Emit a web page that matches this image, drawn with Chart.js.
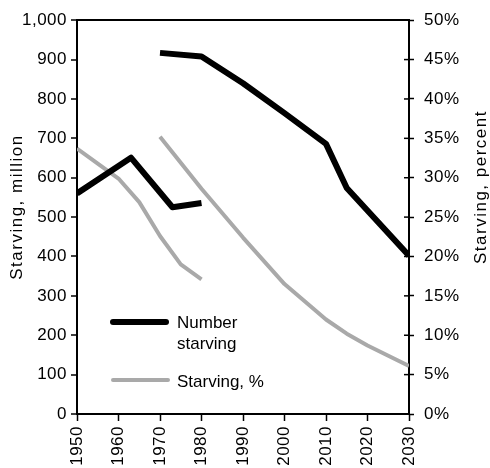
<!DOCTYPE html>
<html><head><meta charset="utf-8">
<script src="https://cdn.jsdelivr.net/npm/chart.js@4"></script>
<style>html,body{margin:0;padding:0;background:#fff}canvas{display:block}</style>
</head><body>
<canvas id="c" width="490" height="468"></canvas>
<script>
const xTicks = [1950,1960,1970,1980,1990,2000,2010,2020,2030];
const leftTicks = [0,100,200,300,400,500,600,700,800,900,1000];
const rightTicks = [0,5,10,15,20,25,30,35,40,45,50];
const numYearsA = [1950,1963,1973,1980];
const numValuesA = [560,651,525,536];
const numYearsB = [1970,1980,1990,2000,2010,2015,2030];
const numValuesB = [917,908,840,764,686,574,402];
const pctYearsA = [1950,1955,1960,1965,1970,1975,1980];
const pctValuesA = [33.7,31.8,29.9,26.9,22.6,19.0,17.1];
const pctYearsB = [1970,1980,1990,2000,2010,2015,2020,2030];
const pctValuesB = [35.2,28.6,22.4,16.5,12.0,10.2,8.7,6.1];
const seriesLabels = ['Number starving','Starving, %'];
const legendLines = [['Number','starving'],['Starving, %']];
const leftTitle = 'Starving, million';
const rightTitle = 'Starving, percent';

const FONT = '"Liberation Sans", Arial, Helvetica, sans-serif';
const BLACK = '#000';
const GRAY = '#a9a9a9';

function pts(xs, ys){ return xs.map((x,i)=>({x:x, y:ys[i]})); }

const spacing = {
  id:'spacing',
  beforeLayout(chart){ chart.ctx.letterSpacing = '0.5px'; },
  beforeDraw(chart){ chart.ctx.letterSpacing = '0.5px'; }
};

const overlay = {
  id:'overlay',
  afterDraw(chart){
    const {ctx, chartArea:a, scales} = chart;
    const y2 = scales.y2;
    ctx.save();
    ctx.letterSpacing = '0px';
    ctx.strokeStyle = BLACK; ctx.lineWidth = 1.5;
    y2.ticks.forEach(t=>{
      const py = y2.getPixelForValue(t.value);
      ctx.beginPath(); ctx.moveTo(a.right-5, py); ctx.lineTo(a.right, py); ctx.stroke();
    });
    ctx.fillStyle = BLACK;
    ctx.font = '17px ' + FONT;
    ctx.textAlign = 'center'; ctx.textBaseline = 'alphabetic';
    ctx.letterSpacing = '1.5px';
    ctx.save(); ctx.translate(22, 207); ctx.rotate(-Math.PI/2); ctx.fillText(leftTitle,0,0); ctx.restore();
    ctx.save(); ctx.translate(486, 187); ctx.rotate(-Math.PI/2); ctx.fillText(rightTitle,0,0); ctx.restore();
    ctx.letterSpacing = '0px';
    // legend
    const ds = chart.data.datasets;
    const items = [
      {d: ds[0], y: 322, x2: 166, lines: legendLines[0], base: 328},
      {d: ds[2], y: 380, x2: 168, lines: legendLines[1], base: 387}
    ];
    ctx.textAlign = 'left';
    items.forEach(it=>{
      ctx.beginPath(); ctx.lineCap = 'round';
      ctx.strokeStyle = it.d.borderColor; ctx.lineWidth = it.d.borderWidth;
      ctx.moveTo(113, it.y); ctx.lineTo(it.x2, it.y); ctx.stroke();
      it.lines.forEach((ln,i)=> ctx.fillText(ln, 177, it.base + i*21));
    });
    ctx.restore();
  }
};

new Chart(document.getElementById('c'), {
  type: 'line',
  data: {
    datasets: [
      {label: seriesLabels[0], data: pts(numYearsA, numValuesA), yAxisID:'y', borderColor: BLACK, borderWidth: 6},
      {label: seriesLabels[0], data: pts(numYearsB, numValuesB), yAxisID:'y', borderColor: BLACK, borderWidth: 6},
      {label: seriesLabels[1], data: pts(pctYearsA, pctValuesA), yAxisID:'y2', borderColor: GRAY, borderWidth: 4},
      {label: seriesLabels[1], data: pts(pctYearsB, pctValuesB), yAxisID:'y2', borderColor: GRAY, borderWidth: 4}
    ]
  },
  options: {
    responsive: false, animation: false, devicePixelRatio: 1,
    layout: {padding: {top: 20, left: 0, right: 0, bottom: 0}},
    elements: {point: {radius: 0}, line: {tension: 0, borderJoinStyle: 'round', borderCapStyle: 'butt', fill: false}},
    plugins: {legend: {display: false}, tooltip: {enabled: false}},
    scales: {
      x: {
        type: 'linear', min: 1950, max: 2030, position: 'bottom',
        afterBuildTicks: s => { s.ticks = xTicks.map(v=>({value:v})); },
        afterFit: s => { s.height = 54; },
        ticks: {minRotation: 90, maxRotation: 90, autoSkip: false, color: BLACK, font: {family: FONT, size: 17}, padding: 5, callback: v => String(v)},
        grid: {drawOnChartArea: false, drawTicks: true, tickLength: 7, tickColor: BLACK, tickWidth: 1.5},
        border: {color: BLACK, width: 2}
      },
      y: {
        type: 'linear', min: 0, max: 1000, position: 'left',
        afterBuildTicks: s => { s.ticks = leftTicks.map(v=>({value:v})); },
        afterFit: s => { s.width = 77; },
        ticks: {color: BLACK, font: {family: FONT, size: 17}, padding: 4, callback: v => v.toLocaleString('en-US')},
        grid: {drawOnChartArea: true, drawTicks: true, tickLength: 6, tickColor: BLACK, tickWidth: 1.5,
               color: c => (c.tick && c.tick.value === 1000) ? BLACK : 'rgba(0,0,0,0)', lineWidth: 2},
        border: {color: BLACK, width: 2}
      },
      y2: {
        type: 'linear', min: 0, max: 50, position: 'right',
        afterBuildTicks: s => { s.ticks = rightTicks.map(v=>({value:v})); },
        afterFit: s => { s.width = 81; },
        ticks: {color: BLACK, font: {family: FONT, size: 17}, padding: 10, callback: v => v + '%'},
        grid: {drawOnChartArea: false, drawTicks: true, tickLength: 5, tickColor: BLACK, tickWidth: 1.5},
        border: {color: BLACK, width: 2}
      }
    }
  },
  plugins: [spacing, overlay]
});
</script>
</body></html>
